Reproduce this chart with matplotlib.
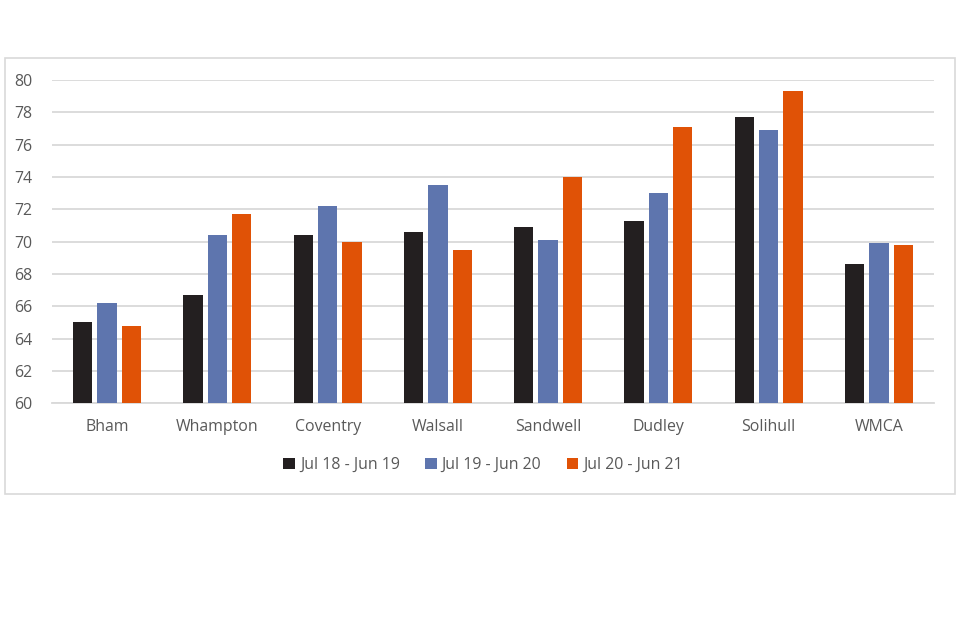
import matplotlib
matplotlib.use("Agg")
import matplotlib.pyplot as plt
import numpy as np
from matplotlib.patches import Rectangle

categories = ["Bham", "Whampton", "Coventry", "Walsall", "Sandwell", "Dudley", "Solihull", "WMCA"]
series_names = ["Jul 18 - Jun 19", "Jul 19 - Jun 20", "Jul 20 - Jun 21"]
s1 = [65.0, 66.7, 70.4, 70.6, 70.9, 71.3, 77.7, 68.6]
s2 = [66.2, 70.4, 72.2, 73.5, 70.1, 73.0, 76.9, 69.9]
s3 = [64.8, 71.7, 70.0, 69.5, 74.0, 77.1, 79.3, 69.8]
yticks = [60, 62, 64, 66, 68, 70, 72, 74, 76, 78, 80]

colors = ["#231F20", "#5E75AE", "#E05206"]
text_color = "#595959"
grid_color = "#D9D9D9"

plt.rcParams['font.family'] = ['Open Sans', 'DejaVu Sans']

fig = plt.figure(figsize=(9.6, 6.4), dpi=100)
W, H = 960, 640
ax = fig.add_axes([52 / W, 1 - 403.3 / H, (934 - 52) / W, (403.3 - 80) / H])

x = np.arange(len(categories))
bw = 0.175
stride = 0.222
for i, (vals, name) in enumerate(zip([s1, s2, s3], series_names)):
    ax.bar(x + (i - 1) * stride, np.array(vals) - 60, bottom=60, width=bw,
           color=colors[i], label=name, zorder=3, linewidth=0)

ax.set_xlim(-0.5, len(categories) - 0.5)
ax.set_ylim(60, 80)
ax.set_yticks(yticks)
ax.set_yticklabels([str(t) for t in yticks])
ax.set_xticks(x)
ax.set_xticklabels(categories)
ax.tick_params(axis='both', length=0, colors=text_color, labelsize=11.4)
ax.tick_params(axis='y', pad=14)
ax.tick_params(axis='x', pad=11)
ax.grid(axis='y', color=grid_color, linewidth=1.3, zorder=0)
ax.set_axisbelow(True)
for sp in ["top", "right", "left"]:
    ax.spines[sp].set_visible(False)
ax.spines["bottom"].set_color(grid_color)
ax.spines["bottom"].set_linewidth(1.3)

leg = fig.legend(loc='center', bbox_to_anchor=(483 / W, 1 - 465 / H), ncol=3,
                 frameon=False, fontsize=11.4, handlelength=0.75, handleheight=0.75,
                 handletextpad=0.3, columnspacing=1.6, labelcolor=text_color)

fig.patches.append(Rectangle((5 / W, 1 - 494 / H), (955 - 5) / W, (494 - 58) / H,
                             transform=fig.transFigure, fill=False,
                             edgecolor=grid_color, linewidth=1.2))

fig.savefig("out.png", dpi=100)
